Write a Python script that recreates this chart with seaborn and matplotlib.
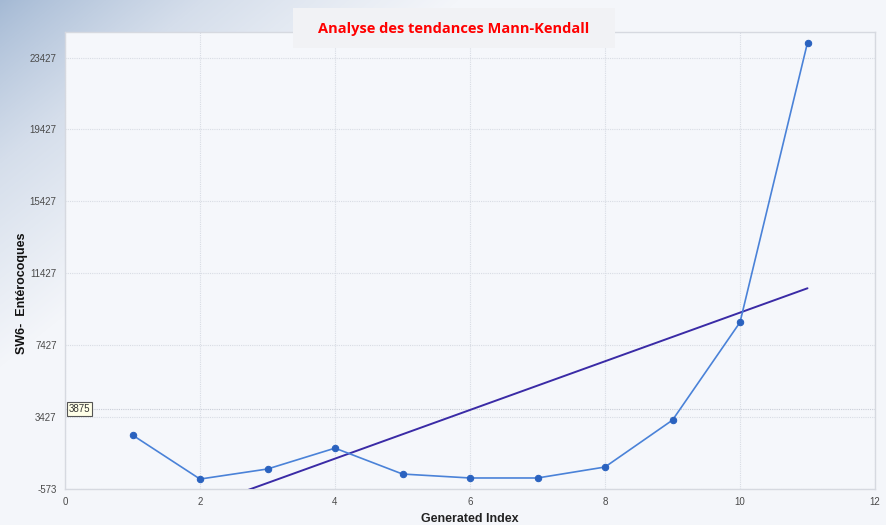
import numpy as np
import pandas as pd
import matplotlib
matplotlib.use("Agg")
import matplotlib.pyplot as plt
import seaborn as sns
from matplotlib.colors import LinearSegmentedColormap

# ---- data ----
index = [1, 2, 3, 4, 5, 6, 7, 8, 9, 10, 11]
values = [2427, -20, 540, 1700, 260, 40, 40, 650, 3260, 8700, 24260]
trend_x = [1, 11]
trend_y = [-2945, 10594]
ref_value = 3875
y_ticks = [-573, 3427, 7427, 11427, 15427, 19427, 23427]
x_ticks = [0, 2, 4, 6, 8, 10, 12]
title = "Analyse des tendances Mann-Kendall"
x_label = "Generated Index"
y_label = "SW6-  Entérocoques"

sns.set_theme(style="white")
plt.rcParams["font.family"] = ["Liberation Sans", "DejaVu Sans"]

W, H = 886, 525
fig = plt.figure(figsize=(W / 100, H / 100), dpi=100)
fig.patch.set_facecolor("#f4f6fa")

# background gradient
bg = fig.add_axes([0, 0, 1, 1], zorder=-10)
yy, xx = np.mgrid[0:H, 0:W]
d = (xx + yy * 1.25) / 460.0
t = np.clip(d, 0, 1) ** 0.85
cmap = LinearSegmentedColormap.from_list("g", ["#a4b9d4", "#d5deeb", "#f4f6fa"])
bg.imshow(t, cmap=cmap, aspect="auto", extent=[0, W, H, 0], vmin=0, vmax=1)
bg.axis("off")

ax = fig.add_axes([65 / W, 1 - 489 / H, (875 - 65) / W, (489 - 32) / H])
ax.set_facecolor("#f5f7fb")

df = pd.DataFrame({"x": index, "y": values})
tdf = pd.DataFrame({"x": trend_x, "y": trend_y})

sns.lineplot(data=df, x="x", y="y", ax=ax, color="#4a82d8", linewidth=1.2,
             marker="o", markersize=4.6, markerfacecolor="#2a62bf",
             markeredgecolor="#2a62bf", zorder=4)
sns.lineplot(data=tdf, x="x", y="y", ax=ax, color="#3a2ba6", linewidth=1.4, zorder=3)

ax.axhline(ref_value, color="#c8ccd6", linewidth=0.8, linestyle=(0, (1, 1)), zorder=1)

ax.set_xlim(0, 12)
ax.set_ylim(-573, 24850)
ax.set_xticks(x_ticks)
ax.set_yticks(y_ticks)
ax.set_xticklabels([str(v) for v in x_ticks])
ax.set_yticklabels([str(v) for v in y_ticks])
ax.grid(True, color="#d8dce4", linewidth=0.8, linestyle=(0, (1, 1)))
ax.set_axisbelow(True)
for s in ax.spines.values():
    s.set_color("#d6d9e0")
    s.set_linewidth(1.0)
ax.tick_params(axis="both", labelsize=7, colors="#4a4a4a", length=0, pad=6)

ax.set_xlabel(x_label, fontsize=9, fontweight="bold", color="#222222", labelpad=4)
ax.set_ylabel("")
fig.text(22 / W, 1 - 293 / H, y_label, rotation=90, ha="center", va="center",
         fontsize=9, fontweight="bold", color="#111111")

# reference value label
ax.text(0.06, ref_value, str(ref_value), fontsize=7, color="#333333",
        va="center", ha="left",
        bbox=dict(boxstyle="square,pad=0.2", facecolor="#ffffe8", edgecolor="#555555", linewidth=0.8),
        zorder=6)

# title box
fig.patches.append(plt.Rectangle((293 / W, 1 - 48 / H), (615 - 293) / W, 40 / H,
                                 transform=fig.transFigure, facecolor="#f1f2f5",
                                 edgecolor="none", zorder=5))
fig.text(454 / W, 1 - 29 / H, title, ha="center", va="center", fontsize=10.5,
         fontweight="bold", color="#ff0000", family=["Open Sans", "DejaVu Sans"], zorder=6)

fig.savefig("out.png", dpi=100)
